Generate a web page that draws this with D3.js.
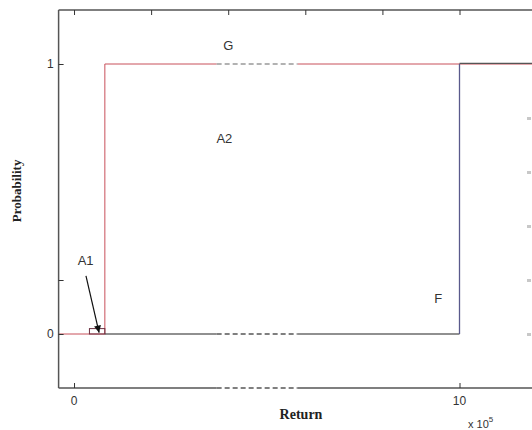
<!DOCTYPE html>
<html><head><meta charset="utf-8">
<script src="https://cdn.jsdelivr.net/npm/d3@7"></script>
<style>body{margin:0;background:#fff}svg{display:block}</style>
</head><body><svg id="c" width="532" height="430"></svg>
<script>
// ---- data ----
const xDomain = [-0.4, 12];
const yDomain = [-0.2, 1.2];
const gX = [-0.4, 0.8, 0.8, 12];
const gY = [0, 0, 1, 1];
const fX = [0.8, 10, 10, 12];
const fY = [0, 0, 1, 1];
const breakX = [3.7, 5.8];
const a1Box = [0.4, 0.8, 0.02];
const topTicks = [0, 2, 4, 6, 8, 10];
const bottomTicks = [0, 10];
const yTicks = [0, 0.2, 1];
const yTickLabels = {0: "0", 1: "1"};
const rightTicks = [0, 0.2, 0.4, 0.6, 0.8];
const labels = [
  {t: "G", x: 4.0, y: 1.052},
  {t: "A2", x: 3.9, y: 0.707},
  {t: "A1", x: 0.3, y: 0.256},
  {t: "F", x: 9.45, y: 0.115}
];
const arrowFrom = [0.31, 0.215], arrowTo = [0.65, 0.005];

// ---- scales ----
const svg = d3.select("#c");
const x = d3.scaleLinear().domain(xDomain).range([58.6, 536.6]);
const y = d3.scaleLinear().domain(yDomain).range([388, 10]);

const line = d3.line().x(d => x(d[0])).y(d => y(d[1]));

// G (red)
svg.append("path").datum(d3.zip(gX, gY)).attr("d", line)
  .attr("fill", "none").attr("stroke", "#c8505a").attr("stroke-width", 1);
// F (dark / blue)
svg.append("path").datum(d3.zip(fX.slice(0, 2), fY.slice(0, 2))).attr("d", line)
  .attr("fill", "none").attr("stroke", "#222").attr("stroke-width", 1.2);
svg.append("path").datum(d3.zip(fX.slice(1, 3), fY.slice(1, 3))).attr("d", line)
  .attr("fill", "none").attr("stroke", "#5a5a8c").attr("stroke-width", 1.3);
svg.append("path").datum(d3.zip(fX.slice(2), fY.slice(2))).attr("d", line)
  .attr("fill", "none").attr("stroke", "#555").attr("stroke-width", 1.2)
  .attr("transform", "translate(0,-0.6)");

// A1 box
svg.append("rect").attr("x", x(a1Box[0])).attr("y", y(a1Box[2]))
  .attr("width", x(a1Box[1]) - x(a1Box[0])).attr("height", y(0) - y(a1Box[2]))
  .attr("fill", "none").attr("stroke", "#6a3040").attr("stroke-width", 1);

// frame
svg.append("line").attr("x1", x(xDomain[0])).attr("x2", x(xDomain[1])).attr("y1", y(yDomain[1])).attr("y2", y(yDomain[1]))
  .attr("stroke", "#555").attr("stroke-width", 1.5);
svg.append("line").attr("x1", x(xDomain[0])).attr("x2", x(xDomain[1])).attr("y1", y(yDomain[0])).attr("y2", y(yDomain[0]))
  .attr("stroke", "#555").attr("stroke-width", 1.5);
svg.append("line").attr("x1", x(xDomain[0])).attr("x2", x(xDomain[0])).attr("y1", y(yDomain[0])).attr("y2", y(yDomain[1]))
  .attr("stroke", "#555").attr("stroke-width", 1.5);

// ticks
const topAxis = d3.axisBottom(x).tickValues(topTicks).tickSize(5).tickFormat("");
const ta = svg.append("g").attr("transform", `translate(0,${y(yDomain[1])})`).call(topAxis);
ta.select(".domain").remove();
ta.selectAll("line").attr("stroke", "#333");
const botAxis = d3.axisTop(x).tickValues(bottomTicks).tickSize(5).tickFormat("");
const ba = svg.append("g").attr("transform", `translate(0,${y(yDomain[0])})`).call(botAxis);
ba.select(".domain").remove();
ba.selectAll("line").attr("stroke", "#333");
const leftAxis = d3.axisRight(y).tickValues(yTicks).tickSize(5).tickFormat("");
const la = svg.append("g").attr("transform", `translate(${x(xDomain[0])},0)`).call(leftAxis);
la.select(".domain").remove();
la.selectAll("line").attr("stroke", "#333");
// faint right-side ticks (right axis beyond the crop)
const rightAxis = d3.axisLeft(y).tickValues(rightTicks).tickSize(4).tickFormat("");
const ra = svg.append("g").attr("transform", "translate(531,0)").call(rightAxis);
ra.select(".domain").remove();
ra.selectAll("line").attr("stroke", "#c8c8c8").attr("stroke-width", 3);

// breaks (dashed segments)
[1, 0, yDomain[0]].forEach(v => {
  svg.append("rect").attr("x", x(breakX[0])).attr("y", y(v) - 2)
    .attr("width", x(breakX[1]) - x(breakX[0])).attr("height", 4).attr("fill", "#fff");
  svg.append("line").attr("x1", x(breakX[0])).attr("x2", x(breakX[1]))
    .attr("y1", y(v)).attr("y2", y(v))
    .attr("stroke", v === 1 ? "#999" : "#555").attr("stroke-width", 1.3)
    .attr("stroke-dasharray", "5,3");
});

// tick labels
const tf = "'Liberation Sans', Arial, sans-serif";
yTicks.filter(v => yTickLabels[v] !== undefined).forEach(v => {
  svg.append("text").attr("x", x(xDomain[0]) - 5).attr("y", y(v) + 4)
    .attr("text-anchor", "end").attr("font-family", tf).attr("font-size", 12).attr("fill", "#333")
    .text(yTickLabels[v]);
});
bottomTicks.forEach(v => {
  svg.append("text").attr("x", x(v)).attr("y", y(yDomain[0]) + 17)
    .attr("text-anchor", "middle").attr("font-family", tf).attr("font-size", 12).attr("fill", "#333")
    .text(v);
});

// annotation labels
labels.forEach(l => {
  svg.append("text").attr("x", x(l.x)).attr("y", y(l.y))
    .attr("text-anchor", "middle").attr("font-family", tf).attr("font-size", 13).attr("fill", "#333")
    .text(l.t);
});

// arrow
svg.append("defs").append("marker").attr("id", "ah").attr("viewBox", "0 0 10 10")
  .attr("refX", 10).attr("refY", 5).attr("markerWidth", 9).attr("markerHeight", 7)
  .attr("orient", "auto").attr("markerUnits", "userSpaceOnUse")
  .append("path").attr("d", "M0,0 L10,5 L0,10 z").attr("fill", "#111");
svg.append("line").attr("x1", x(arrowFrom[0])).attr("y1", y(arrowFrom[1]))
  .attr("x2", x(arrowTo[0])).attr("y2", y(arrowTo[1]))
  .attr("stroke", "#111").attr("stroke-width", 1.2).attr("marker-end", "url(#ah)");

// axis titles
const sf = "'Liberation Serif', 'Times New Roman', serif";
svg.append("text").attr("transform", `translate(21,${y(0.53)}) rotate(-90)`)
  .attr("text-anchor", "middle").attr("font-family", sf).attr("font-weight", "bold")
  .attr("font-size", 13).attr("fill", "#222").text("Probability");
svg.append("text").attr("x", 301).attr("y", 419)
  .attr("text-anchor", "middle").attr("font-family", sf).attr("font-weight", "bold")
  .attr("font-size", 14).attr("fill", "#222").text("Return");
const ex = svg.append("text").attr("x", 468).attr("y", 428)
  .attr("font-family", tf).attr("font-size", 11).attr("fill", "#333");
ex.append("tspan").text("x 10");
ex.append("tspan").attr("dy", -6).attr("font-size", 8).text("5");
</script></body></html>
